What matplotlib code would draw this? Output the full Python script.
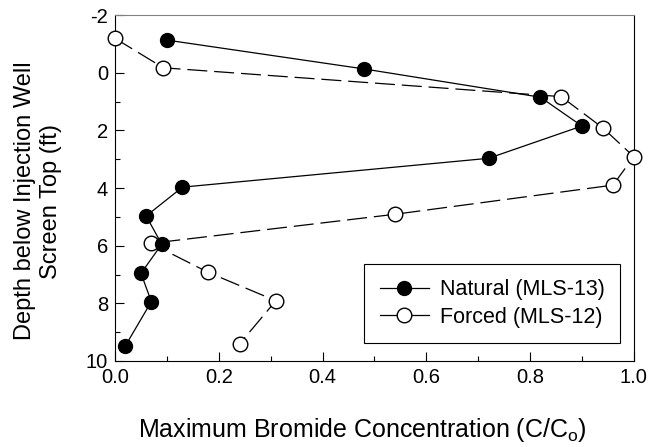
import numpy as np
import matplotlib
matplotlib.use("Agg")
import matplotlib.pyplot as plt
from matplotlib.ticker import MultipleLocator, FormatStrFormatter

plt.rcParams['font.family'] = ['Liberation Sans', 'DejaVu Sans']
plt.rcParams['mathtext.fontset'] = 'custom'
plt.rcParams['mathtext.rm'] = 'Liberation Sans'
plt.rcParams['axes.unicode_minus'] = False

# MLS-13, natural gradient test
natural_conc = [0.10, 0.48, 0.82, 0.90, 0.72, 0.13, 0.06, 0.09, 0.05, 0.07, 0.02]
natural_depth = [-1.13, -0.13, 0.85, 1.85, 2.97, 3.97, 4.97, 5.95, 6.96, 7.94, 9.47]

# MLS-12, forced gradient test
forced_conc = [0.00, 0.093, 0.86, 0.94, 1.00, 0.96, 0.54, 0.069, 0.18, 0.31, 0.24]
forced_depth = [-1.19, -0.17, 0.83, 1.91, 2.91, 3.90, 4.91, 5.92, 6.93, 7.91, 9.41]

fig = plt.figure(figsize=(6.5, 4.47), dpi=100)
ax = fig.add_axes([0.177, 0.1924, 0.798, 0.774])

ax.plot(forced_conc, forced_depth, color='black', lw=0.9, dashes=(16, 5.5),
        marker='o', ms=10.5, mfc='white', mec='black', mew=1.0,
        label='Forced (MLS-12)', zorder=3, clip_on=False)
ax.plot(natural_conc, natural_depth, color='black', lw=0.9, ls='-',
        marker='o', ms=10, mfc='black', mec='black', mew=1.0,
        label='Natural (MLS-13)', zorder=4, clip_on=False)

ax.set_xlim(0, 1.0)
ax.set_ylim(10, -2)
ax.xaxis.set_major_locator(MultipleLocator(0.2))
ax.xaxis.set_minor_locator(MultipleLocator(0.1))
ax.yaxis.set_major_locator(MultipleLocator(2))
ax.yaxis.set_minor_locator(MultipleLocator(1))
ax.xaxis.set_major_formatter(FormatStrFormatter('%.1f'))

ax.tick_params(which='both', direction='in', top=False, right=False,
               width=0.8, labelsize=14.5, pad=5)
ax.tick_params(which='major', length=6.5)
ax.tick_params(which='minor', length=3.6)

for side in ['left', 'right', 'bottom']:
    ax.spines[side].set_color('black')
    ax.spines[side].set_linewidth(0.8)
ax.spines['top'].set_color('#808080')
ax.spines['top'].set_linewidth(0.8)

ax.set_xlabel('Maximum Bromide Concentration (C/C$_\\mathrm{o}$)', fontsize=18, labelpad=21)
ax.xaxis.label.set_x(0.476)
ax.set_ylabel('Depth below Injection Well\nScreen Top (ft)', fontsize=17, labelpad=17.5,
              linespacing=1.2)
ax.yaxis.label.set_y(0.462)

handles, labels = ax.get_legend_handles_labels()
leg = ax.legend(handles[::-1], labels[::-1], loc='lower right',
                bbox_to_anchor=(0.973, 0.052), borderaxespad=0,
                fontsize=15.5, handlelength=2.3, fancybox=False, framealpha=1,
                edgecolor='black', borderpad=0.7, labelspacing=0.3,
                handletextpad=0.5)
leg.get_frame().set_linewidth(0.8)
for line in leg.get_lines():
    line.set_linestyle('-')

fig.savefig('out.png', dpi=100)
